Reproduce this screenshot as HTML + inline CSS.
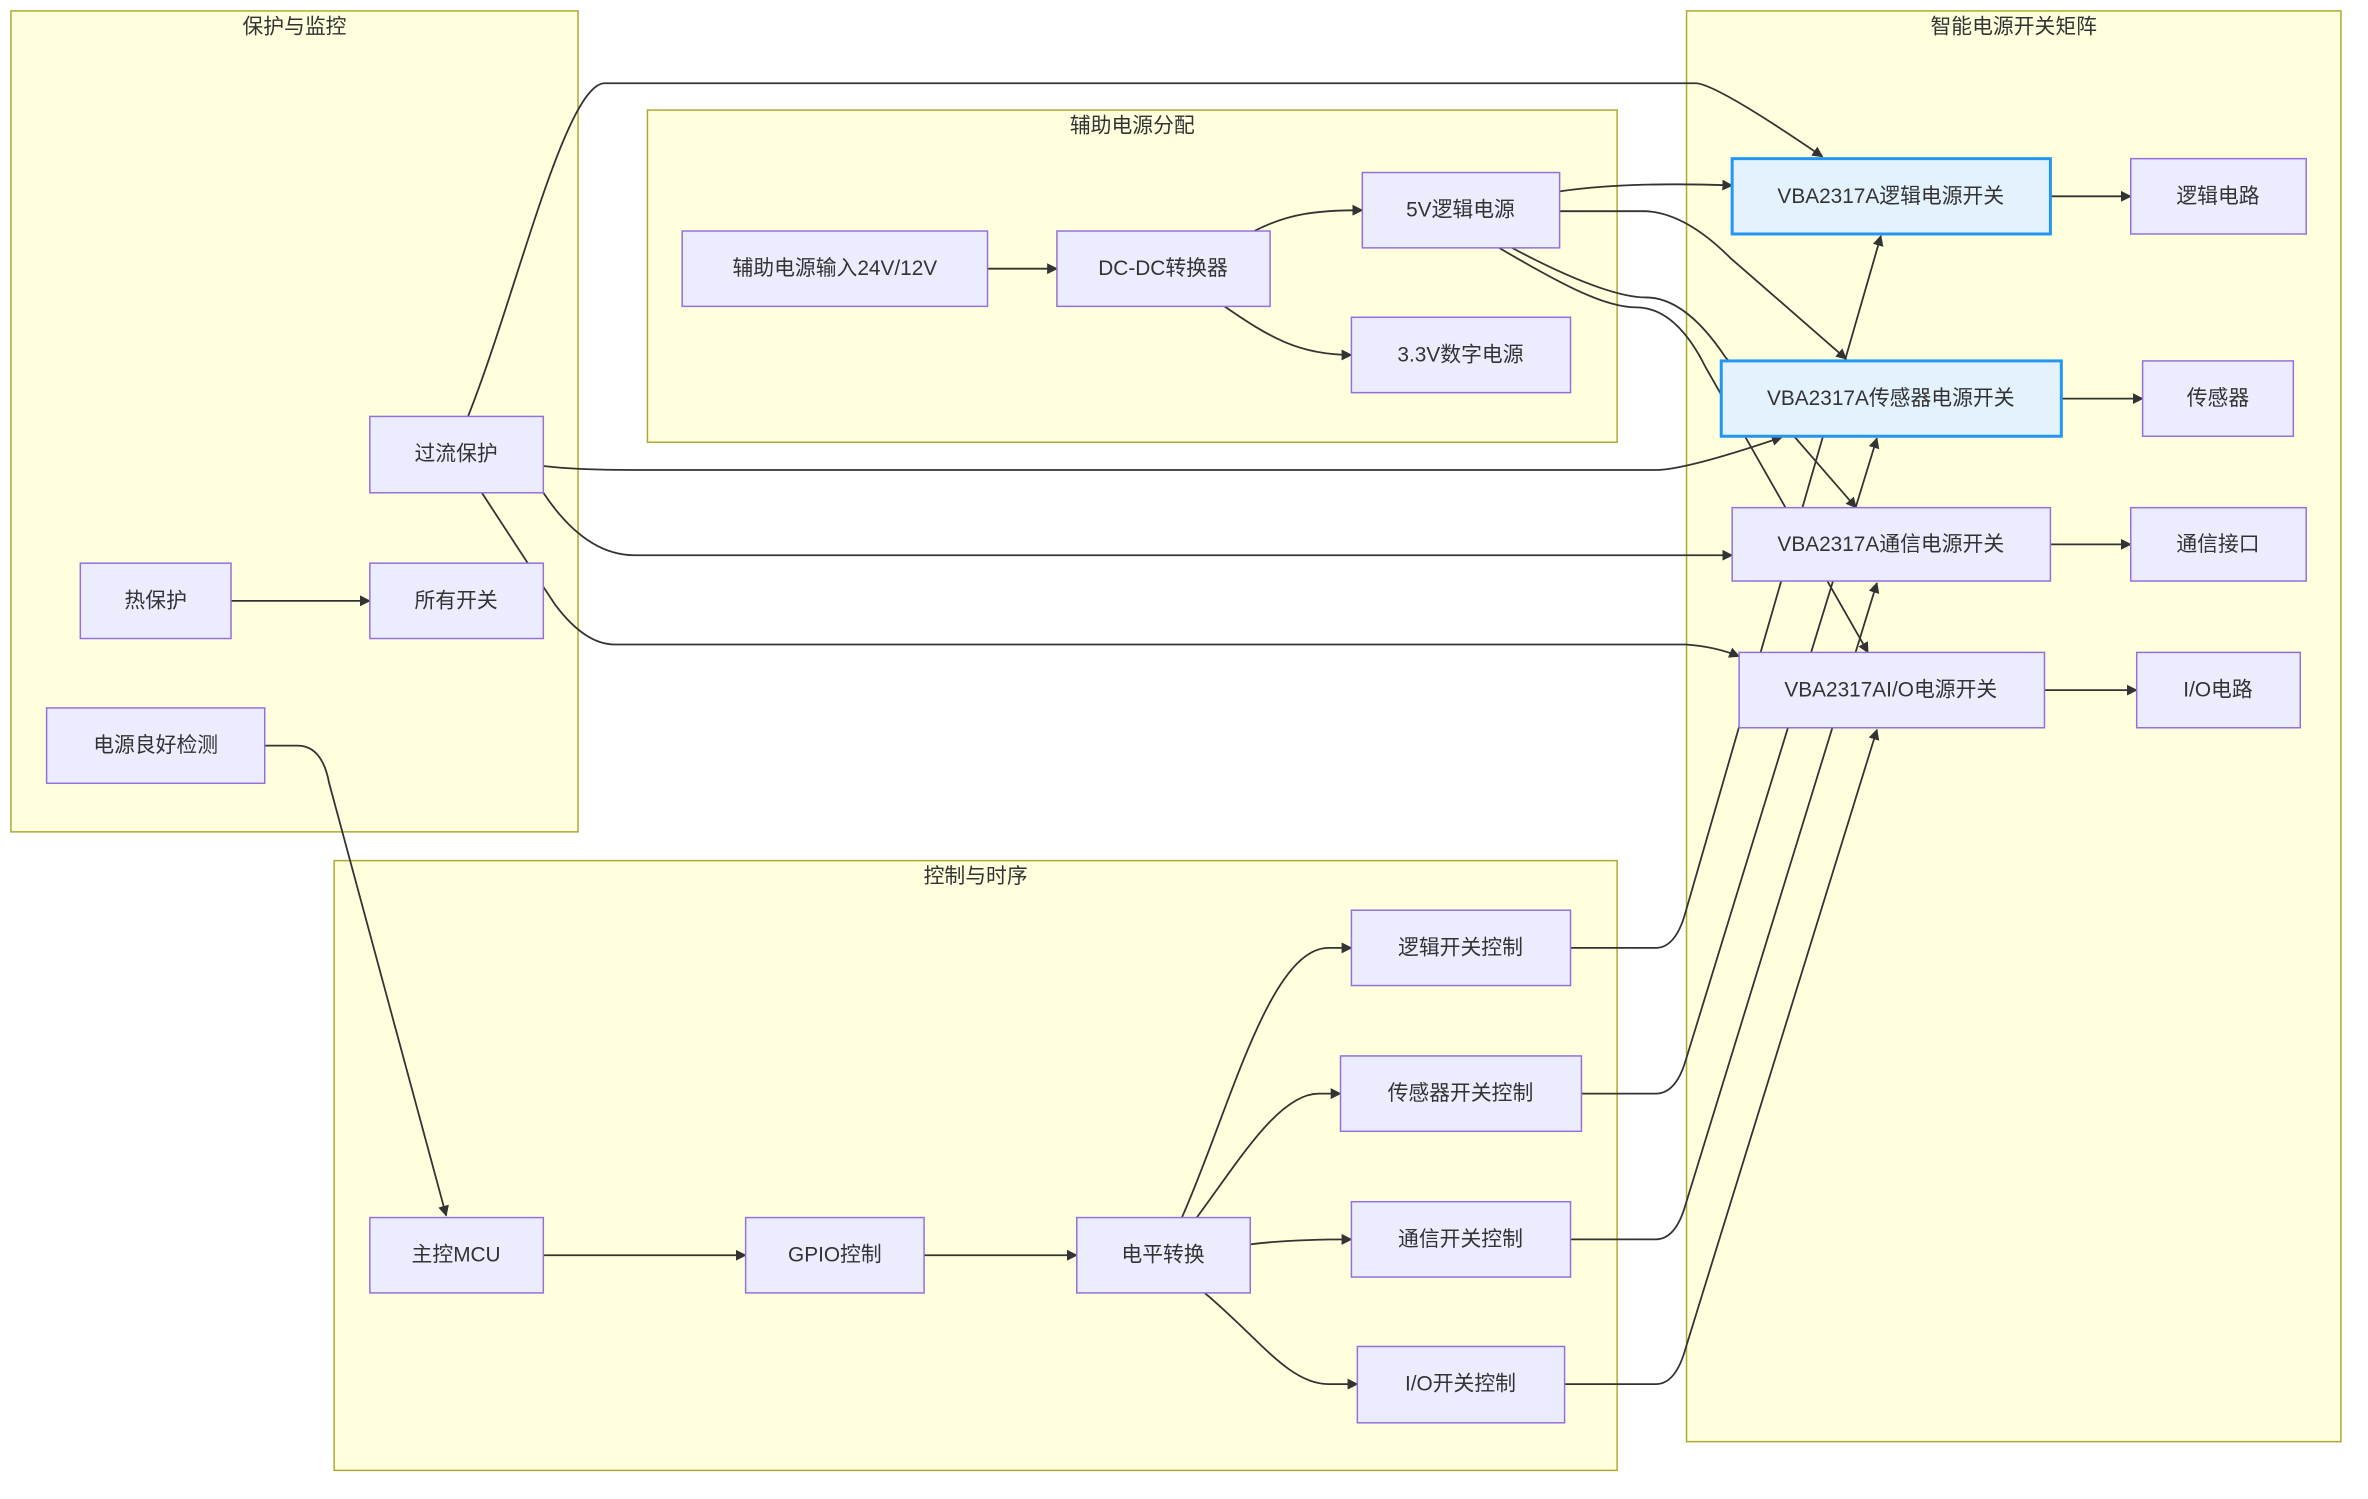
<!DOCTYPE html>
<html><head><meta charset="utf-8"><style>
html,body{margin:0;padding:0;background:#fff;}
svg text{font-family:"Liberation Sans","Noto Sans CJK SC",sans-serif;font-size:21px;fill:#333;text-anchor:middle;dominant-baseline:central;}
.g{fill:#ffffde;stroke:#aaaa33;stroke-width:1.5;}
.n{fill:#ECECFF;stroke:#9370DB;stroke-width:1.5;}
.b{fill:#E3F2FD;stroke:#2196F3;stroke-width:3;}
.e{fill:none;stroke:#333;stroke-width:1.8;marker-end:url(#a);}
</style></head><body>
<svg width="2368" height="1494" viewBox="0 0 2368 1494" xmlns="http://www.w3.org/2000/svg">
<defs><marker id="a" viewBox="0 0 10 10" refX="9" refY="5" markerWidth="11" markerHeight="11" orient="auto" markerUnits="userSpaceOnUse"><path d="M0,0L10,5L0,10z" fill="#333"/></marker></defs>
<g transform="scale(0.9915)">
<rect class="g" x="11" y="11" width="572" height="828"/>
<text x="297" y="27">保护与监控</text>
<rect class="g" x="653" y="111" width="978" height="335"/>
<text x="1142" y="127">辅助电源分配</text>
<rect class="g" x="337" y="868" width="1294" height="615"/>
<text x="984" y="884">控制与时序</text>
<rect class="g" x="1701" y="11" width="660" height="1443"/>
<text x="2031" y="27">智能电源开关矩阵</text>

<path class="e" d="M996,271L1066,271"/>
<path class="e" d="M1265,233C1300,215 1330,212 1374,212"/>
<path class="e" d="M1235,309C1280,340 1310,358 1363,358"/>
<path class="e" d="M1573,193C1630,185 1690,185 1747,187"/>
<path class="e" d="M1573,213L1660,213Q1700,215 1745,260L1862,362"/>
<path class="e" d="M1525,250C1600,290 1640,300 1660,300Q1700,300 1740,360L1872,512"/>
<path class="e" d="M1512,250C1580,290 1620,310 1650,310Q1690,310 1720,370L1884,658"/>
<path class="e" d="M472,420C520,300 570,84 610,84L1710,84Q1730,84 1838,158"/>
<path class="e" d="M548,470Q580,474 640,474L1670,474Q1700,474 1797,441"/>
<path class="e" d="M548,497Q590,560 640,560L1747,560"/>
<path class="e" d="M486,497Q540,580 560,610Q590,650 620,650L1700,650Q1730,652 1754,662"/>
<path class="e" d="M233,606L373,606"/>
<path class="e" d="M267,752L300,752Q325,752 332,790L450,1226"/>
<path class="e" d="M548,1266L752,1266"/>
<path class="e" d="M932,1266L1086,1266"/>
<path class="e" d="M1192,1228C1240,1120 1280,956 1340,956L1363,956"/>
<path class="e" d="M1207,1228C1250,1170 1290,1103 1330,1103L1352,1103"/>
<path class="e" d="M1261,1255Q1300,1250 1363,1250"/>
<path class="e" d="M1215,1304C1270,1350 1300,1396 1340,1396L1369,1396"/>
<path class="e" d="M1584,956L1670,956Q1690,956 1700,920L1897,238"/>
<path class="e" d="M1595,1103L1670,1103Q1690,1103 1700,1070L1893,442"/>
<path class="e" d="M1584,1250L1670,1250Q1690,1250 1700,1215L1893,588"/>
<path class="e" d="M1578,1396L1670,1396Q1690,1396 1700,1360L1893,736"/>
<path class="e" d="M2068,198L2149,198"/>
<path class="e" d="M2079,402L2161,402"/>
<path class="e" d="M2068,549L2149,549"/>
<path class="e" d="M2062,696L2155,696"/>

<rect class="n" x="688" y="233" width="308" height="76"/><text x="842" y="271">辅助电源输入24V/12V</text>
<rect class="n" x="1066" y="233" width="215" height="76"/><text x="1173" y="271">DC-DC转换器</text>
<rect class="n" x="1374" y="174" width="199" height="76"/><text x="1473" y="212">5V逻辑电源</text>
<rect class="n" x="1363" y="320" width="221" height="76"/><text x="1473" y="358">3.3V数字电源</text>
<rect class="n" x="373" y="420" width="175" height="77"/><text x="460" y="458">过流保护</text>
<rect class="n" x="81" y="568" width="152" height="76"/><text x="157" y="606">热保护</text>
<rect class="n" x="373" y="568" width="175" height="76"/><text x="460" y="606">所有开关</text>
<rect class="n" x="47" y="714" width="220" height="76"/><text x="157" y="752">电源良好检测</text>
<rect class="n" x="373" y="1228" width="175" height="76"/><text x="460" y="1266">主控MCU</text>
<rect class="n" x="752" y="1228" width="180" height="76"/><text x="842" y="1266">GPIO控制</text>
<rect class="n" x="1086" y="1228" width="175" height="76"/><text x="1173" y="1266">电平转换</text>
<rect class="n" x="1363" y="918" width="221" height="76"/><text x="1473" y="956">逻辑开关控制</text>
<rect class="n" x="1352" y="1065" width="243" height="76"/><text x="1473" y="1103">传感器开关控制</text>
<rect class="n" x="1363" y="1212" width="221" height="76"/><text x="1473" y="1250">通信开关控制</text>
<rect class="n" x="1369" y="1358" width="209" height="77"/><text x="1473" y="1396">I/O开关控制</text>
<rect class="b" x="1747" y="160" width="321" height="76"/><text x="1907" y="198">VBA2317A逻辑电源开关</text>
<rect class="b" x="1736" y="364" width="343" height="76"/><text x="1907" y="402">VBA2317A传感器电源开关</text>
<rect class="n" x="1747" y="512" width="321" height="74"/><text x="1907" y="549">VBA2317A通信电源开关</text>
<rect class="n" x="1754" y="658" width="308" height="76"/><text x="1907" y="696">VBA2317AI/O电源开关</text>
<rect class="n" x="2149" y="160" width="177" height="76"/><text x="2237" y="198">逻辑电路</text>
<rect class="n" x="2161" y="364" width="152" height="76"/><text x="2237" y="402">传感器</text>
<rect class="n" x="2149" y="512" width="177" height="74"/><text x="2237" y="549">通信接口</text>
<rect class="n" x="2155" y="658" width="165" height="76"/><text x="2237" y="696">I/O电路</text>
</g>
</svg>
</body></html>
